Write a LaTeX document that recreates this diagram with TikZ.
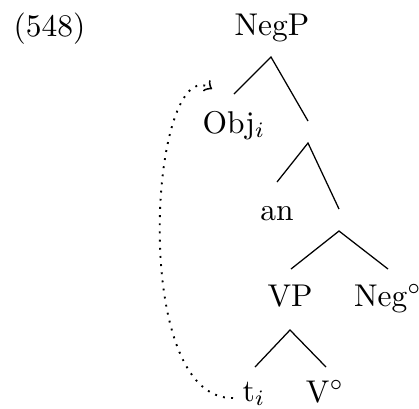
\documentclass[tikz,border=0pt]{standalone}
\begin{document}
\begin{tikzpicture}[x=0.318pt,y=-0.318pt,
  lbl/.style={anchor=base,inner sep=0pt},
  branch/.style={line width=0.4pt},
  mov/.style={dotted,line width=0.6pt,->}]
\useasboundingbox (0,0) rectangle (419,408);
% labels
\node[lbl,anchor=base west] (ex) at (13,36) {(548)};
\node[lbl] (negp) at (272,35) {NegP};
\node[lbl] (obj) at (234,133) {Obj$_i$};
\node[lbl] (an) at (277,220) {an};
\node[lbl] (vp) at (290,306) {VP};
\node[lbl] (neg) at (388,306) {Neg$^\circ$};
\node[lbl] (t) at (254,401) {t$_i$};
\node[lbl] (v) at (325,402) {V$^\circ$};
% branch points
\coordinate (a1) at (271,57);
\coordinate (a1l) at (234,94);
\coordinate (a1r) at (308,121);
\coordinate (a2) at (308,143);
\coordinate (a2l) at (277,182);
\coordinate (a2r) at (339,209);
\coordinate (a3) at (339,231);
\coordinate (a3l) at (291,269);
\coordinate (a3r) at (388,269);
\coordinate (a4) at (290,330);
\coordinate (a4l) at (255,367);
\coordinate (a4r) at (326,367);
\draw[branch] (a1l) -- (a1) -- (a1r);
\draw[branch] (a2l) -- (a2) -- (a2r);
\draw[branch] (a3l) -- (a3) -- (a3r);
\draw[branch] (a4l) -- (a4) -- (a4r);
% movement arrow
\coordinate (mstart) at (233,398);
\coordinate (mend) at (212,89);
\draw[mov] (mstart) .. controls (128,400) and (150,50) .. (mend);
\end{tikzpicture}
\end{document}
